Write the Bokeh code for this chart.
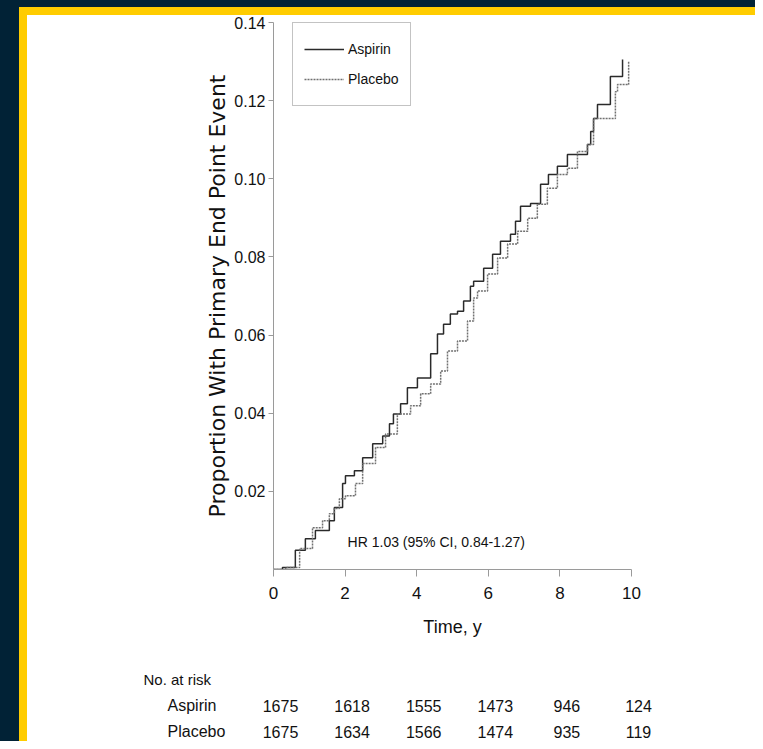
from bokeh.plotting import figure
from bokeh.models import Range1d, FixedTicker, Legend, LegendItem, PrintfTickFormatter
from bokeh.layouts import column
from bokeh.core.properties import value
from bokeh.embed import file_html
from bokeh.resources import INLINE

# ---------------- data ----------------
aspirin_t = [0, 0.20, 0.25, 0.61, 0.89, 1.17, 1.56, 1.70, 1.93, 2.01, 2.26, 2.49, 2.77, 3.05,
             3.24, 3.35, 3.55, 3.74, 4.02, 4.39, 4.58, 4.75, 4.94, 5.14, 5.31, 5.50, 5.59,
             5.87, 6.12, 6.34, 6.62, 6.76, 6.90, 7.18, 7.46, 7.68, 7.93, 8.21, 8.77, 8.86,
             8.94, 9.05, 9.41, 9.75]
aspirin_v = [0, 0, 0.0005, 0.0049, 0.0079, 0.0100, 0.0125, 0.0159, 0.0220, 0.0240, 0.0253,
             0.0286, 0.0322, 0.0342, 0.0373, 0.0398, 0.0424, 0.0465, 0.0490, 0.0552, 0.0603,
             0.0628, 0.0654, 0.0661, 0.0687, 0.0725, 0.0738, 0.0771, 0.0807, 0.0840, 0.0858,
             0.0891, 0.0930, 0.0937, 0.0986, 0.1011, 0.1032, 0.1062, 0.1088, 0.1121, 0.1154,
             0.1190, 0.1262, 0.1305]
placebo_t = [0, 0.08, 0.34, 0.73, 1.09, 1.37, 1.56, 1.70, 1.84, 2.01, 2.29, 2.49, 2.85, 3.13,
             3.46, 3.83, 4.11, 4.39, 4.67, 4.86, 5.14, 5.42, 5.59, 5.70, 5.98, 6.26, 6.54,
             6.82, 7.10, 7.37, 7.65, 7.93, 8.21, 8.49, 8.77, 8.94, 9.55, 9.61, 9.92, 9.92]
placebo_v = [0, 0, 0.0005, 0.0054, 0.0107, 0.0125, 0.0143, 0.0156, 0.0181, 0.0189, 0.0220,
             0.0271, 0.0312, 0.0347, 0.0398, 0.0419, 0.0450, 0.0475, 0.0508, 0.0559, 0.0585,
             0.0636, 0.0695, 0.0713, 0.0756, 0.0797, 0.0833, 0.0866, 0.0899, 0.0935, 0.0976,
             0.1011, 0.1027, 0.1070, 0.1088, 0.1154, 0.1223, 0.1241, 0.1241, 0.1300]

x_ticks = [0, 2, 4, 6, 8, 10]
y_ticks = [0.02, 0.04, 0.06, 0.08, 0.10, 0.12, 0.14]

risk_times = [0, 2, 4, 6, 8, 10]
aspirin_risk = ["1675", "1618", "1555", "1473", "946", "124"]
placebo_risk = ["1675", "1634", "1566", "1474", "935", "119"]
group_names = ["Aspirin", "Placebo"]
risk_header = "No. at risk"
hr_text = "HR 1.03 (95% CI, 0.84-1.27)"

# ---------------- style ----------------
FONT = "'Liberation Sans', Arial, Helvetica, sans-serif"
WIDE = "'DejaVu Sans', Verdana, sans-serif"
NAVY = "#012236"
YELLOW = "#FFCC00"
AX = "#9a9a9a"
TXT = "#111111"

W = 728
LEFT, RIGHT, TOP, BOTTOM = 246, 124, 15, 86
H1 = 648
H2 = 86
FRAME_H = H1 - TOP - BOTTOM

p1 = figure(width=W, height=H1, x_range=Range1d(0, 10), y_range=Range1d(0, 0.14),
            output_backend="svg", toolbar_location=None,
            min_border_left=LEFT, min_border_right=RIGHT, min_border_top=TOP,
            min_border_bottom=BOTTOM, background_fill_color="white",
            border_fill_alpha=0, outline_line_color=None)
p1.frame_align = False
p1.grid.visible = False

r_a = p1.step(aspirin_t, aspirin_v, mode="after", line_color="#2a2a2a", line_width=1.5)
r_p = p1.step(placebo_t, placebo_v, mode="after", line_color="#707070", line_width=1.5,
              line_dash="2 1")

p1.text(x=[2.07], y=[0.00715], text=[hr_text], text_font=value(FONT), text_font_size="14px",
        text_align="left", text_baseline="middle", text_color=TXT)

xa = p1.xaxis[0]
xa.ticker = FixedTicker(ticks=x_ticks)
xa.axis_label = "Time, y"
ya = p1.yaxis[0]
ya.ticker = FixedTicker(ticks=y_ticks)
ya.formatter = PrintfTickFormatter(format="%.2f")
ya.axis_label = "Proportion With Primary End Point Event"
for ax in (xa, ya):
    ax.axis_line_color = AX
    ax.major_tick_line_color = AX
    ax.minor_tick_line_color = None
    ax.major_tick_in = 0
    ax.major_label_text_font = FONT
    ax.major_label_text_font_size = "16px"
    ax.major_label_text_color = TXT
    ax.axis_label_text_font = FONT
    ax.axis_label_text_font_style = "normal"
    ax.axis_label_text_color = TXT
xa.major_tick_out = 7
xa.major_label_standoff = 10
xa.major_label_text_font_size = "17px"
xa.axis_label_text_font_size = "18px"
xa.axis_label_standoff = 15
ya.major_tick_out = 5
ya.major_label_standoff = 3
ya.axis_label_text_font = WIDE
ya.axis_label_text_font_size = "22px"
ya.axis_label_standoff = 1

legend = Legend(items=[LegendItem(label="Aspirin", renderers=[r_a]),
                       LegendItem(label="Placebo", renderers=[r_p])],
                location=(19, FRAME_H - 1 - 83))
legend.border_line_color = "#888888"
legend.border_line_width = 1
legend.background_fill_color = "white"
legend.label_text_font = FONT
legend.label_text_font_size = "14px"
legend.label_text_color = TXT
legend.glyph_width = 40
legend.glyph_height = 30
legend.label_height = 30
legend.spacing = 0
legend.padding = 11
legend.label_standoff = 4
legend.margin = 0
p1.add_layout(legend)

# ---------------- risk table ----------------
ppu = (W - LEFT - RIGHT) / 10.0
ROW = 26
R0 = 24
x_start = -LEFT / ppu
p2 = figure(width=W, height=H2, x_range=Range1d(x_start, x_start + W / ppu),
            y_range=Range1d((H2 - R0) / ROW, -R0 / ROW),
            output_backend="svg", toolbar_location=None, min_border=0,
            x_axis_location=None, y_axis_location=None,
            background_fill_color="white", border_fill_color="white",
            outline_line_color=None)
p2.frame_align = False
p2.grid.visible = False

head_x = -(273 - 143) / ppu
name_x = -(273 - 167) / ppu
p2.text(x=[head_x], y=[0], text=[risk_header], text_font=value(FONT), text_font_size="15px",
        text_align="left", text_baseline="middle", text_color=TXT)
p2.text(x=[name_x, name_x], y=[1, 2], text=group_names, text_font=value(FONT),
        text_font_size="16px", text_align="left", text_baseline="middle", text_color=TXT)
p2.text(x=risk_times, y=[1] * len(risk_times), text=aspirin_risk, text_font=value(FONT),
        text_font_size="16px", text_align="center", text_baseline="middle", x_offset=7,
        text_color=TXT)
p2.text(x=risk_times, y=[2] * len(risk_times), text=placebo_risk, text_font=value(FONT),
        text_font_size="16px", text_align="center", text_baseline="middle", x_offset=7,
        text_color=TXT)

inner = column(p1, p2, spacing=0, styles={
    "border-left": "8px solid " + YELLOW,
    "background-image": "linear-gradient(to bottom, %s 0px, %s 8px, #ffffff 8px)" % (YELLOW, YELLOW),
})
outer = column(inner, spacing=0, styles={
    "background-color": NAVY,
    "padding-left": "19px",
    "padding-top": "7px",
})

open("out.html", "w").write(file_html(outer, INLINE))
